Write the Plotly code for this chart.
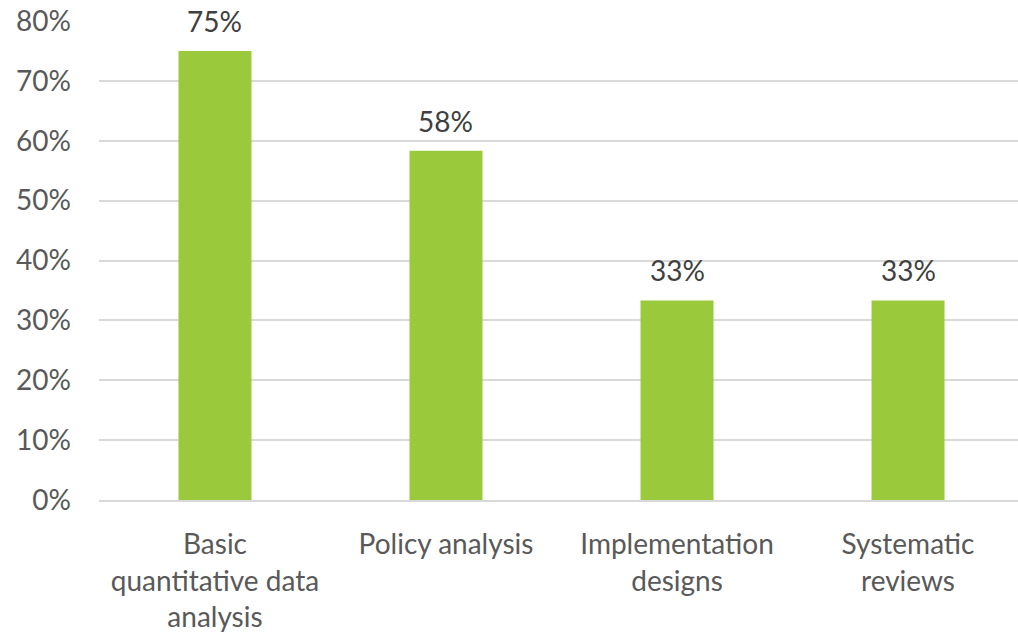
import plotly.graph_objects as go

categories = ["Basic<br>quantitative data<br>analysis", "Policy analysis", "Implementation<br>designs", "Systematic<br>reviews"]
values = [0.75, 7/12, 4/12, 4/12]
labels = ["75%", "58%", "33%", "33%"]

FONT = "Lato, Carlito, Calibri, sans-serif"
fig = go.Figure()
fig.add_trace(go.Bar(x=categories, y=values, marker=dict(color="#9ACA3C", line=dict(width=0)),
                     width=0.316, hoverinfo="skip"))
for c, v, t in zip(categories, values, labels):
    fig.add_annotation(x=c, y=v, text=t, showarrow=False, yanchor="bottom", yshift=11,
                       font=dict(family=FONT, size=28, color="#404040"))

fig.update_layout(
    width=1018, height=635,
    margin=dict(l=99, r=0, t=21, b=135),
    paper_bgcolor="white", plot_bgcolor="white",
    showlegend=False,
    font=dict(family=FONT, size=28, color="#595959"),
)
fig.update_yaxes(range=[0, 0.8], dtick=0.1, tickformat=".0%", showgrid=True,
                 gridcolor="#D9D9D9", gridwidth=1.5, zeroline=False, showline=False,
                 ticks="", ticklabelstandoff=27,
                 tickfont=dict(family=FONT, size=28, color="#595959"))
fig.update_xaxes(range=[-0.502, 3.476], showgrid=False, showline=True, linecolor="#D9D9D9", linewidth=1.5,
                 ticks="", ticklabelstandoff=19, tickangle=0,
                 tickfont=dict(family=FONT, size=28, color="#595959"))
fig.write_html("out.html")
